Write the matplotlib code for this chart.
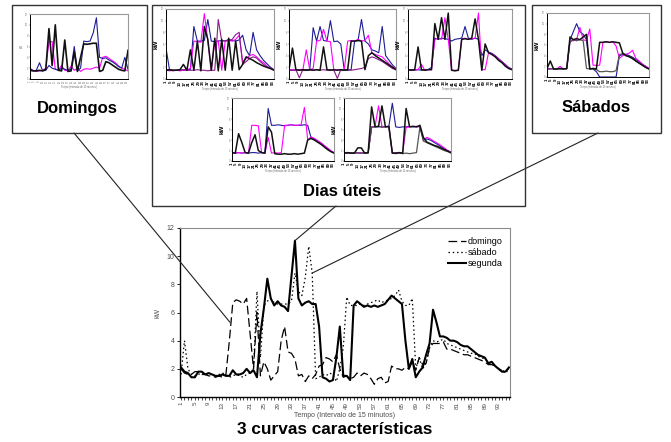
import numpy as np
import matplotlib
matplotlib.use("Agg")
import matplotlib.pyplot as plt
from matplotlib.patches import Rectangle, ConnectionPatch
from matplotlib.lines import Line2D

plt.rcParams['font.family'] = ['Liberation Sans', 'DejaVu Sans']

W, H = 671, 442

# ------------------------------------------------------------
# main chart data (kW per 15 min interval, 96 intervals)
# ------------------------------------------------------------
tempo = np.arange(1, 97)

domingo = [2.0, 1.7, 1.6, 1.6, 1.8, 1.8, 1.6, 1.6, 1.5, 1.5, 1.4, 1.5, 1.4, 1.6, 4.0, 6.7,
           6.9, 6.8, 6.6, 7.0, 4.5, 2.0, 6.0, 1.5, 2.5, 2.0, 1.2, 1.5, 1.8, 4.0, 5.0, 3.2,
           3.1, 2.7, 1.5, 1.6, 1.1, 1.5, 1.3, 1.6, 2.2, 2.3, 2.8, 2.7, 2.5, 3.0, 2.0, 1.4,
           1.5, 1.3, 1.4, 1.7, 1.5, 1.7, 1.6, 1.3, 0.9, 1.3, 1.4, 1.0, 1.1, 2.2, 2.0, 2.0,
           1.9, 2.1, 2.0, 2.5, 1.9, 2.8, 2.3, 2.4, 3.5, 3.8, 3.8, 3.8, 3.9, 3.4, 3.4, 3.3,
           3.2, 3.1, 3.0, 3.0, 2.9, 2.8, 2.7, 2.6, 2.5, 2.3, 2.3, 2.2, 2.0, 1.8, 1.9, 2.0]

sabado = [1.6, 4.0, 2.0, 1.6, 1.5, 1.6, 1.7, 1.7, 1.6, 1.6, 1.5, 1.6, 1.7, 1.6, 1.4, 1.5,
          1.6, 1.5, 1.4, 1.6, 1.7, 2.0, 7.5, 2.8, 6.5, 6.8, 7.0, 6.7, 6.6, 6.6, 6.6, 6.6,
          6.8, 8.8, 7.5, 7.2, 8.5, 10.7, 8.8, 1.3, 1.4, 1.6, 1.5, 1.7, 1.6, 1.1, 2.0, 3.5,
          7.1, 6.5, 6.5, 6.5, 6.6, 6.5, 6.6, 6.7, 6.8, 6.9, 6.7, 6.8, 6.9, 7.0, 7.2, 7.6,
          6.8, 6.5, 6.5, 7.0, 2.0, 2.8, 2.0, 2.4, 3.5, 4.0, 3.9, 4.0, 4.1, 3.8, 3.7, 3.6,
          3.5, 3.4, 3.3, 3.2, 3.1, 3.1, 2.9, 2.8, 2.7, 2.5, 2.3, 2.2, 2.0, 1.9, 1.7, 2.0]

segunda = [2.1, 1.8, 1.7, 1.4, 1.4, 1.8, 1.8, 1.6, 1.7, 1.6, 1.5, 1.5, 1.6, 1.5, 1.5, 1.9,
           1.6, 1.6, 1.7, 2.0, 1.7, 1.9, 1.4, 4.5, 6.3, 8.4, 7.0, 6.5, 6.8, 6.5, 6.4, 6.1,
           8.6, 11.1, 7.0, 6.5, 6.7, 6.8, 6.6, 6.6, 5.0, 1.4, 1.3, 1.1, 1.2, 2.8, 5.0, 1.5,
           1.5, 1.2, 6.5, 6.8, 6.6, 6.4, 6.5, 6.4, 6.5, 6.4, 6.5, 6.6, 6.9, 7.2, 7.0, 6.8,
           6.6, 4.0, 2.0, 2.7, 1.4, 1.8, 2.1, 3.0, 3.8, 6.2, 5.3, 4.3, 4.3, 4.2, 4.0, 4.0,
           3.9, 3.7, 3.6, 3.6, 3.4, 3.2, 3.0, 2.9, 2.8, 2.4, 2.5, 2.2, 2.0, 1.8, 1.8, 2.1]

x_ticks = list(range(1, 97, 4))
y_ticks = list(range(0, 13, 2))

# ------------------------------------------------------------
# thumbnail data (every 3rd interval)
# ------------------------------------------------------------
thumb_x = np.arange(1, 97, 3)

dom_black = [1.6, 1.5, 1.5, 1.6, 1.5, 1.8, 9.3, 2.5, 10.0, 1.6, 1.5, 7.2, 1.4, 1.5, 5.0, 1.4,
             4.0, 6.5, 6.4, 6.5, 6.6, 6.6, 1.4, 1.6, 3.2, 3.0, 2.6, 2.2, 1.8, 1.6, 1.5, 5.3]
dom_magenta = [1.8, 1.6, 1.4, 1.5, 1.6, 2.0, 6.9, 6.9, 1.8, 1.7, 2.5, 1.6, 1.5, 2.4, 1.6, 2.0,
               1.4, 1.8, 1.9, 1.8, 2.0, 2.2, 2.0, 4.0, 4.2, 3.8, 3.4, 3.0, 2.4, 2.0, 1.8, 1.5]
dom_blue = [2.0, 1.5, 1.6, 3.0, 1.5, 1.6, 2.5, 2.0, 1.8, 1.6, 2.0, 1.8, 1.6, 1.8, 6.0, 1.5,
            2.0, 7.0, 6.9, 7.0, 8.5, 11.3, 4.0, 3.8, 3.9, 3.5, 3.2, 2.8, 2.3, 2.0, 4.0, 1.8]

t1_blue = [5.3, 1.6, 1.5, 1.5, 1.6, 1.5, 1.6, 1.6, 9.0, 6.5, 6.5, 6.6, 10.2, 6.5, 6.4, 6.5,
           6.6, 6.5, 6.8, 6.6, 6.5, 6.7, 7.5, 5.0, 4.0, 8.0, 5.0, 4.0, 3.2, 2.6, 2.0, 1.6]
t1_magenta = [1.5, 1.4, 1.5, 1.5, 1.4, 1.5, 1.6, 1.8, 6.5, 6.4, 6.3, 11.2, 6.5, 1.5, 6.4, 6.5,
              1.5, 6.5, 6.6, 6.5, 6.8, 7.5, 3.0, 3.5, 4.0, 4.2, 3.8, 3.2, 2.8, 2.2, 1.8, 1.6]
t1_purple = [1.6, 1.5, 1.4, 1.5, 1.5, 1.6, 1.5, 1.5, 1.5, 1.6, 1.5, 1.5, 1.4, 1.5, 1.5, 10.2,
             6.5, 6.6, 6.5, 6.8, 7.6, 8.0, 2.5, 3.0, 3.5, 3.8, 3.6, 3.0, 2.5, 2.0, 1.8, 1.5]
t1_black = [1.5, 1.6, 1.5, 1.5, 1.6, 2.5, 1.5, 5.0, 1.5, 6.5, 1.4, 9.0, 6.8, 1.5, 7.0, 1.4,
            6.8, 1.5, 7.0, 1.5, 6.5, 1.6, 2.5, 3.8, 3.5, 3.2, 2.8, 2.5, 2.2, 2.0, 1.8, 1.5]

t2_blue = [1.5, 1.5, 1.6, 1.6, 1.5, 1.6, 1.5, 8.8, 6.5, 9.0, 6.6, 6.5, 10.0, 6.4, 6.5, 6.0,
           1.6, 1.5, 1.6, 6.5, 6.6, 10.2, 6.5, 6.0, 5.0, 4.8, 4.5, 9.0, 4.0, 3.2, 2.4, 1.8]
t2_magenta = [1.5, 1.6, 1.5, 1.6, 1.5, 5.0, 1.6, 1.8, 6.5, 6.6, 8.5, 6.5, 6.4, 1.5, 1.6, 1.5,
              1.6, 6.5, 6.6, 6.5, 6.8, 6.5, 6.6, 7.5, 4.5, 4.2, 4.0, 3.8, 3.2, 2.6, 2.0, 1.8]
t2_purple = [1.6, 1.5, 1.6, 0.2, 1.6, 1.5, 1.6, 1.5, 1.6, 1.5, 1.6, 1.5, 1.6, 1.5, 0.1, 1.6,
             1.5, 1.6, 1.5, 1.6, 1.7, 1.8, 2.0, 3.5, 3.8, 3.6, 3.3, 3.0, 2.6, 2.2, 1.8, 1.6]
t2_black = [1.6, 5.3, 1.6, 1.5, 1.6, 1.5, 1.6, 1.5, 1.6, 1.5, 5.5, 1.6, 1.5, 1.6, 1.5, 1.6,
            1.5, 1.6, 6.5, 6.5, 6.6, 6.5, 1.6, 4.0, 4.5, 4.0, 3.6, 3.2, 2.8, 2.4, 2.0, 1.6]

t3_black = [1.6, 1.5, 1.6, 5.5, 1.6, 1.5, 1.6, 1.6, 9.5, 6.8, 10.5, 6.8, 11.3, 1.5, 1.4, 1.5,
            6.8, 6.9, 6.8, 7.0, 10.3, 6.8, 1.5, 6.0, 4.5, 4.2, 3.8, 3.2, 2.8, 2.2, 1.8, 1.6]
t3_magenta = [1.6, 1.5, 1.6, 1.6, 2.5, 1.5, 1.6, 1.6, 6.8, 7.0, 6.8, 10.5, 6.8, 1.5, 1.5, 1.5,
              6.9, 7.0, 6.8, 6.9, 7.0, 11.3, 1.6, 1.6, 4.5, 4.3, 3.9, 3.4, 2.9, 2.4, 1.9, 1.6]
t3_blue = [1.6, 1.6, 1.5, 1.6, 1.5, 1.6, 1.6, 2.0, 7.0, 6.8, 7.0, 6.9, 6.8, 6.5, 6.8, 6.9,
           7.0, 9.0, 7.0, 6.8, 7.0, 6.8, 4.0, 5.0, 4.6, 4.4, 4.0, 3.5, 3.0, 2.5, 2.0, 1.7]

t4_blue = [1.6, 1.5, 1.6, 1.5, 1.6, 1.5, 1.6, 1.6, 1.5, 1.6, 1.5, 10.0, 6.8, 6.8, 6.9, 6.8,
           6.7, 6.8, 6.9, 6.8, 6.8, 6.8, 6.9, 6.8, 4.5, 4.2, 3.8, 3.4, 2.9, 2.4, 1.9, 1.6]
t4_magenta = [1.6, 1.5, 1.6, 1.5, 1.6, 1.5, 6.8, 6.8, 6.7, 1.6, 1.5, 4.5, 1.5, 1.6, 1.5, 1.6,
              6.8, 6.8, 6.9, 6.8, 6.8, 6.9, 10.2, 4.0, 4.6, 4.3, 3.9, 3.5, 3.0, 2.5, 2.0, 1.6]
t4_black = [1.6, 1.5, 5.2, 3.5, 1.6, 1.5, 3.5, 5.0, 2.0, 1.6, 1.5, 6.5, 5.5, 1.4, 1.3, 1.3,
            1.4, 1.3, 1.3, 1.4, 1.3, 1.4, 1.5, 4.0, 4.3, 4.0, 3.6, 3.2, 2.7, 2.2, 1.8, 1.5]

t5_black = [1.5, 1.6, 1.5, 1.5, 2.5, 2.5, 1.5, 1.6, 10.3, 6.5, 6.6, 10.5, 6.5, 6.6, 1.5, 1.5,
            1.6, 1.5, 10.0, 6.5, 6.6, 6.5, 6.8, 4.5, 3.6, 3.3, 3.0, 2.8, 2.5, 2.2, 1.9, 1.6]
t5_magenta = [1.5, 1.5, 1.6, 1.5, 1.5, 1.6, 1.5, 1.6, 6.5, 6.6, 10.5, 6.5, 6.6, 6.5, 1.5, 1.6,
              1.5, 1.6, 6.4, 6.5, 6.6, 6.5, 6.6, 4.0, 4.5, 4.2, 3.8, 3.4, 3.0, 2.5, 2.0, 1.6]
t5_blue = [1.5, 1.5, 1.5, 1.6, 1.5, 1.5, 1.6, 1.5, 6.5, 6.6, 6.5, 6.6, 6.5, 6.6, 11.0, 6.5,
           6.4, 6.5, 6.5, 6.6, 6.5, 6.6, 6.5, 4.0, 4.2, 4.0, 3.6, 3.2, 2.8, 2.4, 2.0, 1.7]
t5_gray = [1.5, 1.6, 1.5, 1.5, 1.6, 1.5, 1.5, 1.6, 6.4, 6.5, 6.6, 6.4, 6.5, 6.6, 1.5, 1.4,
           1.5, 1.4, 1.5, 1.4, 1.5, 1.6, 6.5, 3.8, 3.5, 3.2, 2.9, 2.6, 2.3, 2.0, 1.8, 1.5]

sab_black = [1.6, 3.0, 1.5, 1.5, 1.6, 1.5, 1.6, 7.5, 7.0, 7.2, 7.0, 7.5, 8.0, 1.5, 1.6, 1.5,
             6.5, 6.5, 6.6, 6.5, 6.6, 6.5, 6.4, 4.5, 4.0, 3.8, 3.5, 3.0, 2.6, 2.2, 1.8, 1.5]
sab_blue = [1.5, 1.6, 1.5, 1.6, 1.5, 1.6, 1.5, 7.0, 8.5, 10.0, 8.5, 8.0, 7.0, 1.6, 1.5, 1.0,
            0.0, 0.0, 0.0, 0.0, 0.0, 0.0, 4.0, 4.2, 4.3, 4.0, 3.7, 3.3, 2.9, 2.4, 2.0, 1.6]
sab_magenta = [1.5, 1.5, 1.6, 1.5, 2.0, 1.5, 1.6, 7.0, 6.8, 7.0, 9.3, 7.0, 6.8, 9.0, 2.2, 2.2,
               2.2, 6.5, 6.6, 6.5, 6.6, 5.8, 3.5, 4.0, 4.2, 4.5, 5.0, 3.5, 3.0, 2.4, 2.0, 1.6]
sab_black2 = [1.5, 1.5, 1.6, 1.5, 1.6, 1.5, 1.6, 6.5, 7.0, 6.8, 7.0, 6.8, 1.6, 1.5, 1.6, 1.4,
              1.0, 1.0, 1.1, 1.0, 1.0, 1.2, 4.2, 4.4, 4.0, 3.8, 3.4, 3.0, 2.6, 2.2, 1.8, 1.5]

BLUE = "#1c1c96"
MAG = "#ff00ff"
PURP = "#8a1a8a"
BLK = "#111111"
GRAY = "#555555"


def px_axes(fig, x0, y0, x1, y1, **kw):
    return fig.add_axes([x0 / W, 1 - y1 / H, (x1 - x0) / W, (y1 - y0) / H], **kw)


def thumb(fig, box, series, bold_ticks=True):
    ax = px_axes(fig, *box)
    for vals, color, lw in series:
        ax.plot(thumb_x, vals, color=color, lw=lw)
    ax.set_xlim(1, 94)
    ax.set_ylim(0, 12)
    ax.set_yticks(y_ticks)
    ax.set_yticklabels([str(v) for v in y_ticks], fontsize=1.8, color="0.45")
    ax.tick_params(axis="y", length=1.0, width=0.3, pad=0.5, color="0.3")
    ax.set_xticks(x_ticks)
    if bold_ticks:
        ax.set_xticklabels([str(v) for v in x_ticks], rotation=90, fontsize=3.2,
                           fontweight="bold", color="black")
        ax.set_ylabel("kW", fontsize=4.5, fontweight="bold", labelpad=2)
    else:
        ax.set_xticklabels([str(v) for v in x_ticks], rotation=90, fontsize=1.8, color="0.45")
        ax.set_ylabel("kW", fontsize=2, color="0.4", labelpad=1)
    ax.tick_params(axis="x", length=0.8, width=0.3, pad=0.4)
    ax.set_xlabel("Tempo (intervalo de 15 minutos)", fontsize=1.8, color="0.4", labelpad=0.8)
    for s in ["top", "right"]:
        ax.spines[s].set_color("0.6")
        ax.spines[s].set_linewidth(0.8)
    for s in ["left", "bottom"]:
        ax.spines[s].set_color("black")
        ax.spines[s].set_linewidth(0.7)
    return ax


fig = plt.figure(figsize=(W / 100, H / 100), dpi=100)

# ------------------------------------------------------------
# thumbnails
# ------------------------------------------------------------
thumb(fig, (30, 14, 128, 79),
      [(dom_magenta, MAG, 0.8), (dom_blue, BLUE, 0.8), (dom_black, BLK, 1.2)], bold_ticks=False)

thumb(fig, (166, 9, 274, 79),
      [(t1_blue, BLUE, 0.8), (t1_magenta, MAG, 0.8), (t1_purple, PURP, 0.8), (t1_black, BLK, 1.1)])
thumb(fig, (289, 9, 396, 79),
      [(t2_blue, BLUE, 0.8), (t2_magenta, MAG, 0.8), (t2_purple, PURP, 0.8), (t2_black, BLK, 1.1)])
thumb(fig, (408, 9, 512, 79),
      [(t3_blue, BLUE, 0.8), (t3_magenta, MAG, 0.8), (t3_black, BLK, 1.1)])
thumb(fig, (232, 98, 334, 161),
      [(t4_blue, BLUE, 0.8), (t4_magenta, MAG, 0.8), (t4_black, BLK, 1.1)])
thumb(fig, (344, 98, 451, 161),
      [(t5_blue, BLUE, 0.8), (t5_magenta, MAG, 0.8), (t5_gray, GRAY, 0.9), (t5_black, BLK, 1.1)])

thumb(fig, (547, 13, 649, 77),
      [(sab_blue, BLUE, 0.8), (sab_magenta, MAG, 0.8), (sab_black2, GRAY, 0.9), (sab_black, BLK, 1.1)])

# ------------------------------------------------------------
# main chart
# ------------------------------------------------------------
ax = px_axes(fig, 180, 228, 510, 397)
ax.plot(tempo, domingo, color="black", lw=0.9, dashes=(7, 3), label="domingo")
ax.plot(tempo, sabado, color="black", lw=0.9, dashes=(1.2, 2.2), label="sábado")
ax.plot(tempo, segunda, color="black", lw=1.5, label="segunda")

ax.set_xlim(0.7, 96.3)
ax.set_ylim(0, 12)
ax.set_yticks(y_ticks)
ax.set_yticklabels([str(v) for v in y_ticks], fontsize=5, color="0.3")
ax.set_xticks(x_ticks)
ax.set_xticklabels([str(v) for v in x_ticks], rotation=90, fontsize=4.5, color="0.3")
ax.set_xticks(tempo, minor=True)
ax.tick_params(axis="x", which="both", length=2, width=0.5, pad=1.5)
ax.tick_params(axis="y", length=2, width=0.6, pad=2)
ax.set_ylabel("kW", fontsize=5, color="0.3", labelpad=4)
ax.set_xlabel("Tempo (Intervalo de 15 minutos)", fontsize=5, color="0.3", labelpad=2)
for s in ["top", "right"]:
    ax.spines[s].set_color("0.55")
    ax.spines[s].set_linewidth(0.8)
for s in ["left", "bottom"]:
    ax.spines[s].set_color("black")
    ax.spines[s].set_linewidth(1.0)

ax.legend(loc="upper left", bbox_to_anchor=(0.80, 0.97), frameon=False, fontsize=6.5,
          handlelength=2.0, handletextpad=0.2, labelspacing=0.25, borderaxespad=0)

# ------------------------------------------------------------
# overlay: boxes, captions, connector lines
# ------------------------------------------------------------
ov = fig.add_axes([0, 0, 1, 1], zorder=10)
ov.set_xlim(0, W)
ov.set_ylim(H, 0)
ov.axis("off")
ov.patch.set_alpha(0)

boxes = [(12, 5, 147, 133), (152, 5, 525, 206), (532, 5, 661, 133)]
for x0, y0, x1, y1 in boxes:
    ov.add_patch(Rectangle((x0, y0), x1 - x0, y1 - y0, fill=False, ec="#333333", lw=1.0))

ov.text(77, 108, "Domingos", ha="center", va="center", fontsize=12, fontweight="bold")
ov.text(342, 192, "Dias úteis", ha="center", va="center", fontsize=12, fontweight="bold")
ov.text(596, 108, "Sábados", ha="center", va="center", fontsize=12, fontweight="bold")
ov.text(335, 430, "3 curvas características", ha="center", va="center", fontsize=12.4,
        fontweight="bold")

links = [((74, 133), (15.2, 5.3)), ((336, 206), (34, 11.1)), ((598, 133), (39, 8.8))]
for a, b in links:
    con = ConnectionPatch(xyA=a, coordsA=ov.transData, xyB=b, coordsB=ax.transData,
                          color="#222222", lw=0.8)
    fig.add_artist(con)

fig.savefig("out.png", dpi=100)
